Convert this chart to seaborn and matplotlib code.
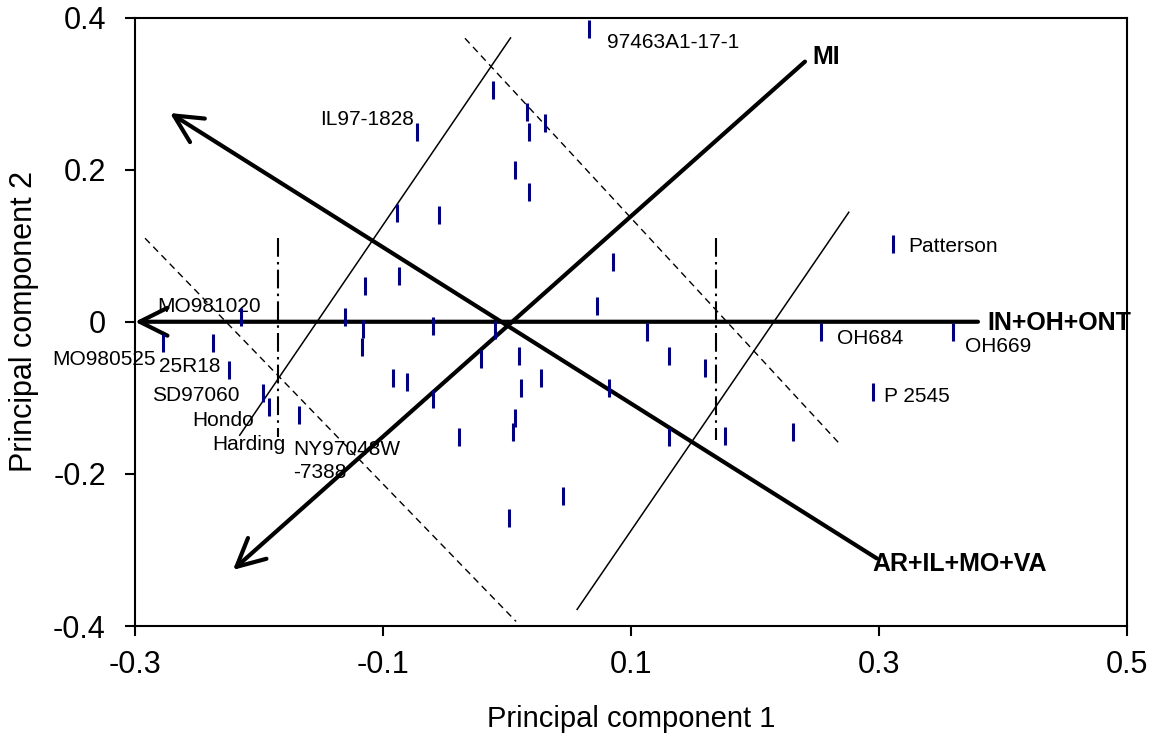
import matplotlib
matplotlib.use('Agg')
import matplotlib.pyplot as plt
import pandas as pd
import seaborn as sns

# PCA scores
pc1 = [0.0664, -0.011, 0.0164, 0.0306, 0.0177, -0.0728, 0.0065, 0.0177, -0.089, -0.0546,
       -0.0871, -0.1145, 0.0858, 0.0729, -0.1304, -0.2145, -0.1159, -0.1172, -0.0594, -0.0097,
       0.1126, -0.021, 0.0099, 0.1309, 0.1597, -0.0917, -0.0804, 0.0277, 0.0115, 0.0825,
       -0.0594, 0.0067, -0.0385, 0.0051, 0.1309, 0.176, 0.0449, 0.0019, -0.2777, -0.2368,
       -0.2239, -0.1965, -0.1917, -0.1677, 0.3115, 0.2532, 0.36, 0.2954, 0.2304]
pc2 = [0.3847, 0.305, 0.276, 0.261, 0.250, 0.250, 0.1996, 0.171, 0.1426, 0.140,
       0.0602, 0.0475, 0.079, 0.0208, 0.006, 0.0059, -0.0099, -0.0335, -0.0055, -0.0108,
       -0.013, -0.0493, -0.045, -0.045, -0.0603, -0.0735, -0.0787, -0.0735, -0.0866, -0.0866,
       -0.1019, -0.126, -0.1519, -0.1445, -0.1519, -0.1497, -0.229, -0.2575, -0.0283, -0.0283,
       -0.0634, -0.094, -0.1116, -0.1225, 0.1023, -0.013, -0.013, -0.0919, -0.1445]

# point labels and where they sit
label_text = ['97463A1-17-1', 'IL97-1828', 'MO981020', 'MO980525', '25R18', 'SD97060',
              'Hondo', 'Harding', 'NY97048W\n-7388', 'Patterson', 'OH684', 'OH669', 'P 2545']
label_x = [0.0806, -0.1508, -0.2823, -0.3669, -0.2806, -0.2863, -0.254, -0.2379, -0.1726,
           0.3234, 0.2661, 0.3694, 0.304]
label_y = [0.3666, 0.2653, 0.0199, -0.0502, -0.059, -0.0972, -0.130, -0.162, -0.183,
           0.0987, -0.0217, -0.0327, -0.0985]

# loading vectors (tail -> arrow tip) and their names
vec_names = ['IN+OH+ONT', 'AR+IL+MO+VA', 'MI']
vec_tail_x = [0.3798, 0.2981, 0.2403]
vec_tail_y = [0.0, -0.311, 0.342]
vec_tip_x = [-0.3, -0.2718, -0.221]
vec_tip_y = [0.0, 0.2744, -0.3263]
vec_label_x = [0.3871, 0.2944, 0.246]
vec_label_y = [-0.002, -0.3184, 0.3485]

# group boundary lines
solid_x = [[0.0032, -0.2159], [0.276, 0.0562]]
solid_y = [[0.374, -0.150], [0.1448, -0.379]]
dashed_x = [[-0.0339, 0.2691], [-0.2919, 0.0073]]
dashed_y = [[0.3727, -0.162], [0.1098, -0.394]]
dashdot_x = [[-0.185, -0.185], [0.1685, 0.1685]]
dashdot_y = [[0.1098, -0.151], [0.1098, -0.155]]

xticks = [-0.3, -0.1, 0.1, 0.3, 0.5]
yticks = [-0.4, -0.2, 0, 0.2, 0.4]
ytick_labels = ['-0.4', '-0.2', '0', '0.2', '0.4']

sns.set_style('ticks')
plt.rcParams['font.family'] = ['Liberation Sans', 'DejaVu Sans']
plt.rcParams['axes.unicode_minus'] = False
plt.rcParams['text.color'] = 'black'
plt.rcParams['axes.labelcolor'] = 'black'

fig = plt.figure(figsize=(11.59, 7.43), dpi=100)
ax = fig.add_axes([135 / 1159, 1 - 626 / 743, 992 / 1159, 608.5 / 743])

for xs, ys in zip(solid_x, solid_y):
    ax.plot(xs, ys, color='black', lw=1.1, solid_capstyle='butt')
for xs, ys in zip(dashed_x, dashed_y):
    ax.plot(xs, ys, color='black', lw=1.0, dashes=(5, 3.5))
for xs, ys in zip(dashdot_x, dashdot_y):
    ax.plot(xs, ys, color='black', lw=1.5, dashes=(9, 2.5, 1.2, 2.5))

for tx, ty, hx, hy in zip(vec_tail_x, vec_tail_y, vec_tip_x, vec_tip_y):
    ax.annotate('', xy=(hx, hy), xytext=(tx, ty),
                arrowprops=dict(arrowstyle='->,head_length=1.0,head_width=0.5',
                                mutation_scale=20, lw=3, color='black',
                                shrinkA=0, shrinkB=0))
for name, lx, ly in zip(vec_names, vec_label_x, vec_label_y):
    ax.text(lx, ly, name, fontsize=18, fontweight='bold', ha='left', va='center',
            color='black', clip_on=False)

scores = pd.DataFrame({'pc1': pc1, 'pc2': pc2})
sns.scatterplot(data=scores, x='pc1', y='pc2', marker='|', s=150, color='#000080',
                linewidth=2.2, ax=ax, zorder=5)

for txt, lx, ly in zip(label_text, label_x, label_y):
    ax.text(lx, ly, txt, fontsize=15, ha='left', va='center', linespacing=1.3,
            color='black', clip_on=False)

ax.set_xlim(-0.3, 0.5)
ax.set_ylim(-0.4, 0.4)
ax.set_xticks(xticks)
ax.set_xticklabels([str(t) for t in xticks])
ax.set_yticks(yticks)
ax.set_yticklabels(ytick_labels)
ax.tick_params(axis='both', direction='out', length=7, width=1.5, labelsize=22,
               colors='black')
ax.tick_params(axis='x', pad=10)
ax.tick_params(axis='y', pad=14)
for side in ['top', 'right', 'bottom', 'left']:
    ax.spines[side].set_visible(True)
    ax.spines[side].set_linewidth(1.5)
    ax.spines[side].set_color('black')
ax.set_xlabel('Principal component 1', fontsize=21, labelpad=18)
ax.set_ylabel('Principal component 2', fontsize=22, labelpad=10)

fig.savefig('out.png', dpi=100)
